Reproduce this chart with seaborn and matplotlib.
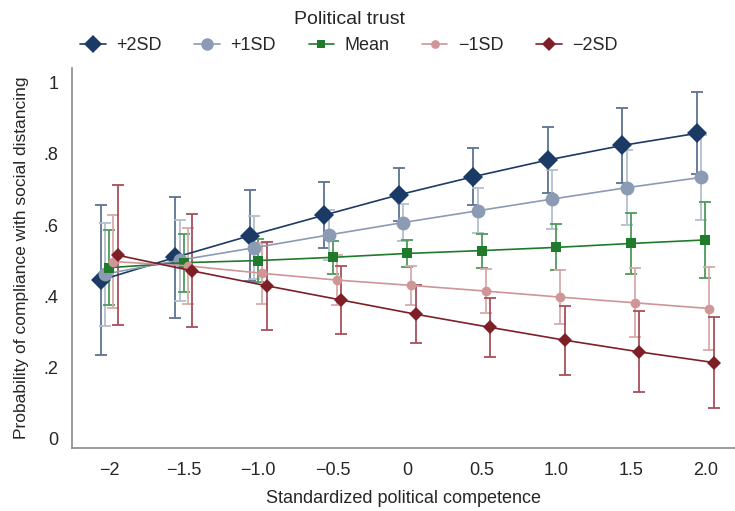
import numpy as np
import pandas as pd
import seaborn as sns
import matplotlib.pyplot as plt

# Datos
competence = [-2.0, -1.5, -1.0, -0.5, 0.0, 0.5, 1.0, 1.5, 2.0]
groups = ['+2SD', '+1SD', 'Mean', '\u22121SD', '\u22122SD']

p_plus2 = [0.445, 0.509, 0.570, 0.628, 0.685, 0.736, 0.783, 0.824, 0.858]
p_plus1 = [0.462, 0.501, 0.536, 0.572, 0.607, 0.640, 0.673, 0.705, 0.734]
p_mean = [0.480, 0.494, 0.500, 0.509, 0.520, 0.528, 0.537, 0.548, 0.558]
p_minus1 = [0.497, 0.485, 0.464, 0.445, 0.430, 0.414, 0.397, 0.381, 0.365]
p_minus2 = [0.515, 0.471, 0.429, 0.389, 0.349, 0.312, 0.276, 0.243, 0.213]

# semi-amplitud del intervalo de confianza
ci_plus2 = [0.212, 0.170, 0.128, 0.092, 0.075, 0.080, 0.094, 0.106, 0.115]
ci_plus1 = [0.145, 0.114, 0.088, 0.070, 0.052, 0.063, 0.083, 0.105, 0.120]
ci_mean = [0.105, 0.082, 0.061, 0.046, 0.039, 0.048, 0.065, 0.085, 0.107]
ci_minus1 = [0.130, 0.106, 0.086, 0.070, 0.055, 0.061, 0.076, 0.097, 0.118]
ci_minus2 = [0.197, 0.159, 0.124, 0.096, 0.081, 0.083, 0.097, 0.114, 0.128]

x_ticklabels = ['\u22122', '\u22121.5', '\u22121.0', '\u22120.5', '0', '0.5', '1.0', '1.5', '2.0']
y_ticklabels = ['0', '.2', '.4', '.6', '.8', '1']

# Estilos
line_colors = ['#1b3a66', '#8b9bb3', '#1f7a2c', '#cf9597', '#7e1f28']
bar_colors = ['#5d7392', '#b4bfce', '#4f9a5a', '#d9a9aa', '#a65058']
markers = ['D', 'o', 's', 'o', 'D']
msizes = [10.5, 10, 6.5, 7, 7.5]
offsets = [-0.056, -0.028, 0.0, 0.028, 0.056]

values = [p_plus2, p_plus1, p_mean, p_minus1, p_minus2]
cis = [ci_plus2, ci_plus1, ci_mean, ci_minus1, ci_minus2]

rows = []
for g, v, c, off in zip(groups, values, cis, offsets):
    for x, y, e in zip(competence, v, c):
        rows.append({'group': g, 'x': x + off, 'p': y, 'ci': e})
df = pd.DataFrame(rows)

sns.set_style('white')
plt.rcParams['font.family'] = ['Liberation Sans', 'DejaVu Sans']

fig = plt.figure(figsize=(7.35, 5.11), dpi=100)
ax = fig.add_axes([0.098, 0.123, 0.902, 0.744])

# Líneas con marcadores
sns.lineplot(data=df, x='x', y='p', hue='group', style='group',
             hue_order=groups, style_order=groups,
             palette=dict(zip(groups, line_colors)),
             markers=dict(zip(groups, markers)), dashes=False,
             linewidth=1.2, markeredgewidth=0, ax=ax, legend=False, zorder=3)

for line, ms in zip(list(ax.lines), msizes):
    line.set_markersize(ms)

# Barras de error (detrás de las líneas)
for g, bc in zip(groups, bar_colors):
    d = df[df['group'] == g]
    ax.errorbar(d['x'], d['p'], yerr=d['ci'], fmt='none', ecolor=bc,
                elinewidth=1.3, capsize=4, capthick=1.3, zorder=1)

ax.set_xlim(-2.25, 2.2)
ax.set_ylim(-0.028, 1.042)
ax.set_xticks(competence)
ax.set_xticklabels(x_ticklabels)
ax.set_yticks([0, 0.2, 0.4, 0.6, 0.8, 1.0])
ax.set_yticklabels(y_ticklabels)
ax.tick_params(axis='both', length=0, labelsize=13, pad=10)
ax.set_xlabel('Standardized political competence', fontsize=13, labelpad=8)
ax.set_ylabel('Probability of compliance with social distancing', fontsize=12.5, labelpad=10)

for side in ['top', 'right']:
    ax.spines[side].set_visible(False)
for side in ['left', 'bottom']:
    ax.spines[side].set_color('#8a8a8a')
    ax.spines[side].set_linewidth(1.2)

# Leyenda
handles = [plt.Line2D([], [], color=lc, marker=m, markersize=ms * 0.9, markeredgewidth=0, linewidth=1.2)
           for lc, m, ms in zip(line_colors, markers, msizes)]
leg = fig.legend(handles, groups, title='Political trust', loc='upper center',
                 bbox_to_anchor=(0.475, 1.01), ncol=5, frameon=False, fontsize=13,
                 title_fontsize=14, handlelength=1.4, columnspacing=1.8, handletextpad=0.6)

fig.savefig('out.png', dpi=100)
